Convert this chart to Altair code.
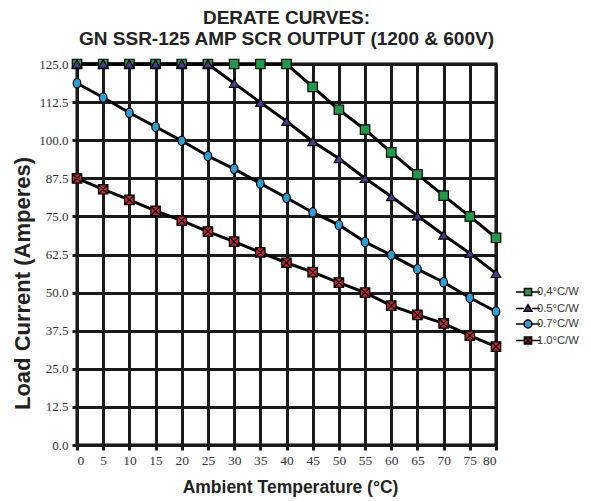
import altair as alt
import pandas as pd

temps = [0, 5, 10, 15, 20, 25, 30, 35, 40, 45, 50, 55, 60, 65, 70, 75, 80]
s04 = [125, 125, 125, 125, 125, 125, 125, 125, 125, 117.5, 110, 103.5, 96, 88.8, 81.8, 75, 68]
s05 = [125, 125, 125, 125, 125, 125, 118.7, 112.4, 106.2, 99.6, 94, 87.5, 81.5, 75.2, 68.9, 62.9, 56.3]
s07 = [118.7, 114, 109, 104.4, 99.8, 94.8, 90.6, 85.8, 81.1, 76.3, 72.2, 66.6, 62.3, 57.7, 53.4, 48.3, 43.8]
s10 = [87.5, 83.9, 80.4, 76.8, 73.6, 70, 66.7, 63.2, 59.8, 56.7, 53.3, 50, 45.7, 42.7, 39.9, 35.9, 32.3]

series_names = ["0.4°C/W", "0.5°C/W", "0.7°C/W", "1.0°C/W"]
legend_labels = ["0,4°C/W", "0.5°C/W", "0.7°C/W", "1.0°C/W"]
colors = ["#1f9a48", "#463d8f", "#2aa2d8", "#c4262e"]

y_ticks = [0, 12.5, 25, 37.5, 50, 62.5, 75, 87.5, 100, 112.5, 125]
x_ticks = temps

rows = []
for name, lab, vals in zip(series_names, legend_labels, [s04, s05, s07, s10]):
    for t, v in zip(temps, vals):
        rows.append({"temp": t, "amps": v, "series": name, "label": lab})
df = pd.DataFrame(rows)

plot_shapes = [
    "square",
    "triangle-up",
    "M0,-1A0.8,1,0,1,1,0,1A0.8,1,0,1,1,0,-1Z",
    "M-1,-1H1V1H-1Z M-1,-1L1,1 M1,-1L-1,1",
]

legend_shapes = [
    "M-2,0H-0.6 M0.6,0H2 M-0.6,-0.6H0.6V0.6H-0.6Z",
    "M-2,0H-0.65 M0.65,0H2 M0,-0.65L0.65,0.45H-0.65Z",
    "M-2,0H-0.65 M0.65,0H2 M0,-0.65A0.65,0.65,0,1,1,0,0.65A0.65,0.65,0,1,1,0,-0.65Z",
    "M-2,0H-0.6 M0.6,0H2 M-0.6,-0.6H0.6V0.6H-0.6Z M-0.6,-0.6L0.6,0.6 M0.6,-0.6L-0.6,0.6",
]

x_enc = alt.X("temp:Q", scale=alt.Scale(domain=[0, 80], nice=False),
              axis=alt.Axis(values=x_ticks, title="Ambient Temperature (°C)", format="d"))
y_enc = alt.Y("amps:Q", scale=alt.Scale(domain=[0, 125], nice=False),
              axis=alt.Axis(values=y_ticks, title="Load Current (Amperes)", format=".1f"))

base = alt.Chart(df)

lines = base.mark_line(color="black", strokeWidth=3).encode(
    x=x_enc, y=y_enc, detail="series:N"
)

points = base.mark_point(filled=True, stroke="black", strokeWidth=1.2, opacity=1, size=90).encode(
    x=x_enc, y=y_enc,
    fill=alt.Fill("series:N", scale=alt.Scale(domain=series_names, range=colors), legend=None),
    shape=alt.Shape("series:N", scale=alt.Scale(domain=series_names, range=plot_shapes), legend=None),
)

legend_layer = base.mark_point(filled=True, opacity=0).encode(
    x=x_enc, y=y_enc,
    color=alt.Color("label:N", scale=alt.Scale(domain=legend_labels, range=colors),
                    legend=alt.Legend(title=None, orient="none", legendX=444, legendY=221,
                                      symbolOpacity=1, symbolSize=144, symbolStrokeColor="black",
                                      symbolStrokeWidth=1.5, labelFontSize=11.2,
                                      labelFont="Liberation Sans", labelColor="#333",
                                      rowPadding=2.5, padding=0, labelOffset=2)),
    shape=alt.Shape("label:N", scale=alt.Scale(domain=legend_labels, range=legend_shapes), legend=None),
)

chart = alt.layer(lines, points, legend_layer).resolve_scale(
    shape="independent", color="independent", fill="independent"
).properties(
    width=419, height=381,
    autosize="none",
    padding={"left": 69, "top": 56, "right": 87, "bottom": 52},
    title=alt.TitleParams(text=["DERATE CURVES:", "GN SSR-125 AMP SCR OUTPUT (1200 & 600V)"],
                          font="Liberation Sans", fontSize=19, fontWeight="bold",
                          color="#222", anchor="middle", offset=8, lineHeight=21),
).configure_view(stroke="black", strokeWidth=3).configure_axis(
    grid=True, gridColor="#1a1a1a", gridWidth=3, gridOpacity=1,
    domainColor="#1a1a1a", domainWidth=3,
    tickColor="#1a1a1a", tickWidth=3, tickSize=5,
    labelFont="Liberation Sans Narrow", labelColor="#333",
    titleFont="Liberation Sans", titleFontWeight="bold", titleColor="#222",
).configure_axisY(
    titleFontSize=22, labelPadding=4, labelFontSize=13,
    titleX=-55, titleY=219, titleAngle=-90, titleAlign="center", titleBaseline="middle"
).configure_axisX(
    titleFontSize=17.5, labelPadding=3, labelFontSize=13.5,
    titleX=213, titleY=47, titleAlign="center", titleBaseline="alphabetic"
)

chart.save("out.html", embed_options={"renderer": "svg", "actions": False})
